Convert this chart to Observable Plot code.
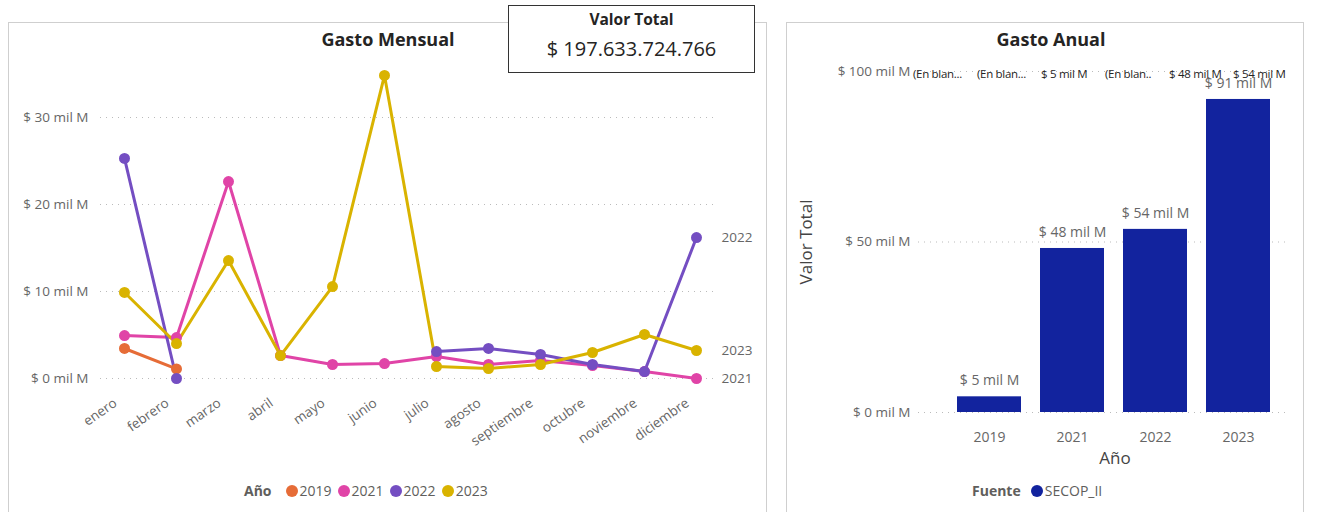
<!DOCTYPE html>
<html><head><meta charset="utf-8">
<script src="https://cdn.jsdelivr.net/npm/d3@7"></script>
<script src="https://cdn.jsdelivr.net/npm/@observablehq/plot@0.6"></script>
<style>
body{margin:0;width:1317px;height:512px;position:relative;overflow:hidden;background:#fff;font-family:"Segoe UI","Open Sans",sans-serif;}
.abs{position:absolute;white-space:nowrap;}
.panel{position:absolute;border:1.5px solid #cfcfcf;box-sizing:border-box;background:#fff;}
.title{font-weight:700;font-size:18px;color:#252423;transform:translateX(-50%);}
.card{position:absolute;left:508px;top:5px;width:247px;height:68px;border:1.5px solid #333;box-sizing:border-box;background:#fff;text-align:center;}
.legend{display:flex;align-items:center;font-size:14px;color:#605E5C;}
.legend b{color:#605E5C;margin-right:8px;}
.sw{display:inline-block;width:12px;height:12px;border-radius:50%;margin:0 2px 0 6px;}
svg{position:absolute;top:0;}
</style></head><body>
<div class="panel" style="left:8px;top:22px;width:759px;height:500px"></div>
<div class="panel" style="left:786px;top:22px;width:518px;height:500px"></div>
<div id="left"></div>
<div id="right"></div>
<div class="abs title" style="left:388px;top:27px">Gasto Mensual</div>
<div class="abs title" style="left:1051px;top:27px">Gasto Anual</div>
<div class="card">
  <div style="font-weight:700;font-size:15.5px;color:#252423;margin-top:2px">Valor Total</div>
  <div style="font-size:20px;color:#252423;margin-top:5px">$ 197.633.724.766</div>
</div>
<div id="legLeft" class="abs legend" style="left:244px;top:481px"></div>
<div id="legRight" class="abs legend" style="left:972px;top:481px"></div>
<div class="abs" style="left:805px;top:242px;font-size:17px;color:#444;transform:translate(-50%,-50%) rotate(-90deg)">Valor Total</div>
<div class="abs" style="left:1115px;top:446px;font-size:17px;color:#444;transform:translateX(-50%)">Año</div>
<div id="overlap"></div>
<script>
const months = ["enero","febrero","marzo","abril","mayo","junio","julio","agosto","septiembre","octubre","noviembre","diciembre"];
const years = ["2019","2021","2022","2023"];
const yearColors = ["#E66C37","#E044A7","#744EC2","#D9B300"];
const gasto2019 = [3.45, 1.1, null, null, null, null, null, null, null, null, null, null];
const gasto2021 = [4.94, 4.71, 22.64, 2.64, 1.61, 1.72, 2.53, 1.61, 2.07, 1.49, 0.8, 0];
const gasto2022 = [25.3, 0, null, null, null, null, 3.1, 3.45, 2.76, 1.61, 0.8, 16.2];
const gasto2023 = [9.89, 4.02, 13.56, 2.64, 10.57, 34.83, 1.38, 1.15, 1.61, 2.99, 5.06, 3.22];
const monthlyTicks = [0, 10, 20, 30];
const annualYears = ["2019","2021","2022","2023"];
const annualTotals = [4.6, 48.1, 53.7, 91.8];
const annualLabels = ["$ 5 mil M","$ 48 mil M","$ 54 mil M","$ 91 mil M"];
const annualTicks = [0, 50, 100];
const overlapLabels = ["(En blan...","(En blan...","$ 5 mil M","(En blan..","$ 48 mil M","$ 54 mil M"];
const fuente = "SECOP_II";
const barColor = "#12239E";

const series = [gasto2019, gasto2021, gasto2022, gasto2023];
const rows = [];
series.forEach((arr, k) => arr.forEach((v, i) => rows.push({month: months[i], year: years[k], value: v})));
const lastRows = rows.filter(d => d.month === "diciembre" && d.value != null);
const fmt = v => `$ ${v} mil M`;
const grey = "#666";

const left = Plot.plot({
  width: 770, height: 512,
  marginLeft: 100, marginRight: 55, marginTop: 60, marginBottom: 122,
  style: {fontFamily: '"Segoe UI","Open Sans",sans-serif', background: "transparent"},
  x: {type: "point", domain: months, range: [122, 697], padding: 0, label: null},
  y: {domain: [0, 30], range: [378, 117], label: null},
  color: {domain: years, range: yearColors},
  marks: [
    Plot.gridY(monthlyTicks, {stroke: "#bbb", strokeOpacity: 1, strokeDasharray: "1,5"}),
    Plot.axisY(monthlyTicks, {tickSize: 0, tickPadding: 12, tickFormat: fmt, fontSize: 13.5, fill: grey, label: null}),
    Plot.axisX({tickSize: 0, tickPadding: 11, tickRotate: -35, fontSize: 13.5, fill: grey, dx: -9, label: null}),
    Plot.line(rows, {x: "month", y: "value", z: "year", stroke: "year", strokeWidth: 3}),
    Plot.dot(rows, {x: "month", y: "value", fill: "year", r: 5.5}),
    Plot.text(lastRows, {x: "month", y: "value", text: "year", dx: 25, textAnchor: "start", fontSize: 13.5, fill: grey})
  ]
});
document.getElementById("left").appendChild(left);
left.style.left = "0px";

const bars = annualYears.map((y, i) => ({year: y, total: annualTotals[i], label: annualLabels[i]}));
const right = Plot.plot({
  width: 530, height: 512,
  marginLeft: 131, marginRight: 27, marginTop: 60, marginBottom: 90,
  style: {fontFamily: '"Segoe UI","Open Sans",sans-serif', background: "transparent"},
  x: {type: "band", domain: annualYears, range: [170, 483], paddingInner: 0.233, paddingOuter: 0, label: null},
  y: {domain: [0, 100], range: [412, 71], label: null},
  marks: [
    Plot.gridY(annualTicks, {stroke: "#bbb", strokeOpacity: 1, strokeDasharray: "1,5"}),
    Plot.barY(bars, {x: "year", y: "total", fill: barColor}),
    Plot.axisY(annualTicks, {tickSize: 0, tickPadding: 8, tickFormat: fmt, fontSize: 13.5, fill: grey, label: null}),
    Plot.axisX({tickSize: 0, tickPadding: 10, fontSize: 14, fill: grey, label: null}),
    Plot.text(bars, {x: "year", y: "total", text: "label", dy: -16, fontSize: 14, fill: grey})
  ]
});
document.getElementById("right").appendChild(right);
right.style.left = "787px";

const ov = document.getElementById("overlap");
overlapLabels.forEach((t, i) => {
  const d = document.createElement("div");
  d.className = "abs";
  d.style.cssText = `left:${913 + 64 * i}px;top:66px;font-size:11.5px;letter-spacing:-0.3px;color:#252423;`;
  d.textContent = t;
  ov.appendChild(d);
});

const ll = document.getElementById("legLeft");
ll.innerHTML = "<b>Año</b>" + years.map((y, i) => `<span class="sw" style="background:${yearColors[i]}"></span><span>${y}</span>`).join("");
const lr = document.getElementById("legRight");
lr.innerHTML = `<b>Fuente</b><span class="sw" style="background:${barColor};margin-left:2px"></span><span>${fuente}</span>`;
</script>
</body></html>
